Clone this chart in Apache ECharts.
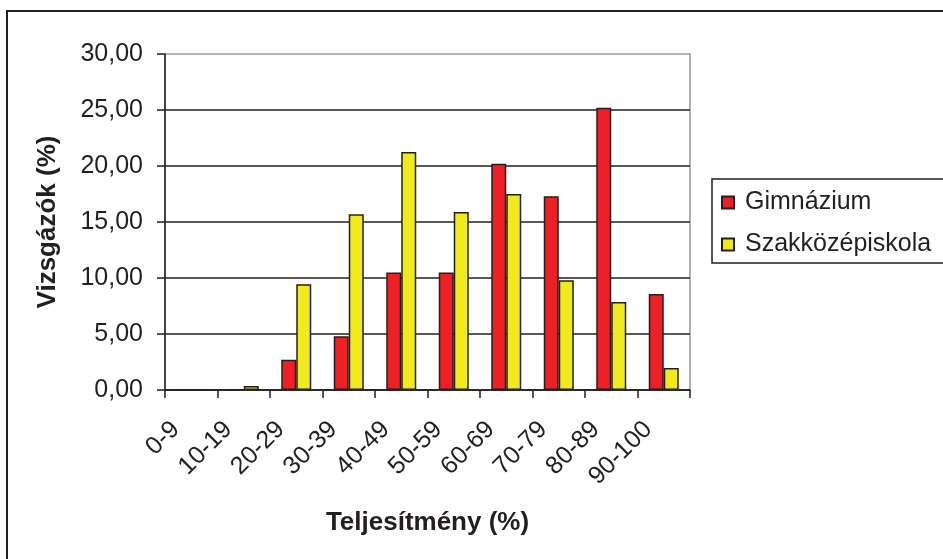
<!DOCTYPE html>
<html>
<head>
<meta charset="utf-8">
<script src="https://cdn.jsdelivr.net/npm/echarts@6/dist/echarts.min.js"></script>
<style>
  html, body { margin: 0; padding: 0; background: #fff; }
  #chart { width: 943px; height: 559px; }
</style>
</head>
<body>
<div id="chart"></div>
<script>
// Score bands (percent achieved)
const categories = ['0-9', '10-19', '20-29', '30-39', '40-49', '50-59', '60-69', '70-79', '80-89', '90-100'];
// Share of candidates per band (%)
const gimnazium = [0, 0, 2.7, 4.8, 10.5, 10.5, 20.2, 17.3, 25.2, 8.57];
const szakkozep = [0, 0.35, 9.45, 15.7, 21.25, 15.9, 17.5, 9.8, 7.86, 1.96];
const seriesNames = ['Gimnázium', 'Szakközépiskola'];

const FONT = '"Liberation Sans", Arial, sans-serif';
const INK = '#231f20';

const chart = echarts.init(document.getElementById('chart'), null, { renderer: 'canvas' });

const barStyle = (color) => ({ color: color, borderColor: INK, borderWidth: 1.5 });

chart.setOption({
  animation: false,
  backgroundColor: '#fff',
  graphic: [{
    type: 'rect',
    z: -10,
    shape: { x: 7, y: 11, width: 1000, height: 600 },
    style: { fill: '#fff', stroke: INK, lineWidth: 2 }
  }],
  grid: {
    left: 165, top: 54, width: 525, height: 336,
    show: true, borderColor: '#9a9a9a', borderWidth: 1.5, backgroundColor: '#fff'
  },
  legend: {
    orient: 'vertical',
    left: 712, top: 179,
    data: seriesNames,
    icon: 'rect',
    itemWidth: 12, itemHeight: 12,
    itemGap: 17,
    padding: [11, 40, 6, 9],
    borderColor: INK, borderWidth: 1.5,
    textStyle: { fontFamily: FONT, fontSize: 25, color: INK, padding: [0, 0, 0, 6] }
  },
  xAxis: {
    type: 'category',
    data: categories,
    name: 'Teljesítmény (%)',
    nameLocation: 'middle',
    nameGap: 120,
    nameTextStyle: { fontFamily: FONT, fontSize: 26, fontWeight: 'bold', color: INK },
    axisLine: { lineStyle: { color: INK, width: 1.5 } },
    axisTick: { show: true, length: 8, lineStyle: { color: INK, width: 1.5 } },
    axisLabel: {
      rotate: 45, margin: 20, padding: [0, 22, 0, 0],
      fontFamily: FONT, fontSize: 25, color: INK, interval: 0
    },
    splitLine: { show: false }
  },
  yAxis: {
    type: 'value',
    min: 0, max: 30, interval: 5,
    name: 'Vizsgázók (%)',
    nameLocation: 'middle',
    nameGap: 104,
    nameTextStyle: { fontFamily: FONT, fontSize: 26, fontWeight: 'bold', color: INK },
    axisLine: { show: true, lineStyle: { color: INK, width: 1.5 } },
    axisTick: { show: true, length: 8, lineStyle: { color: INK, width: 1.5 } },
    axisLabel: {
      margin: 22, fontFamily: FONT, fontSize: 25, color: INK,
      formatter: (v) => v.toFixed(2).replace('.', ',')
    },
    splitLine: { show: true, showMaxLine: false, lineStyle: { color: INK, width: 1.5 } }
  },
  series: [
    {
      name: seriesNames[0], type: 'bar', data: gimnazium,
      barWidth: 15, barGap: '0%',
      itemStyle: barStyle('#ee1f25')
    },
    {
      name: seriesNames[1], type: 'bar', data: szakkozep,
      barWidth: 15, barGap: '0%',
      itemStyle: barStyle('#f0e91c')
    }
  ]
});
</script>
</body>
</html>
